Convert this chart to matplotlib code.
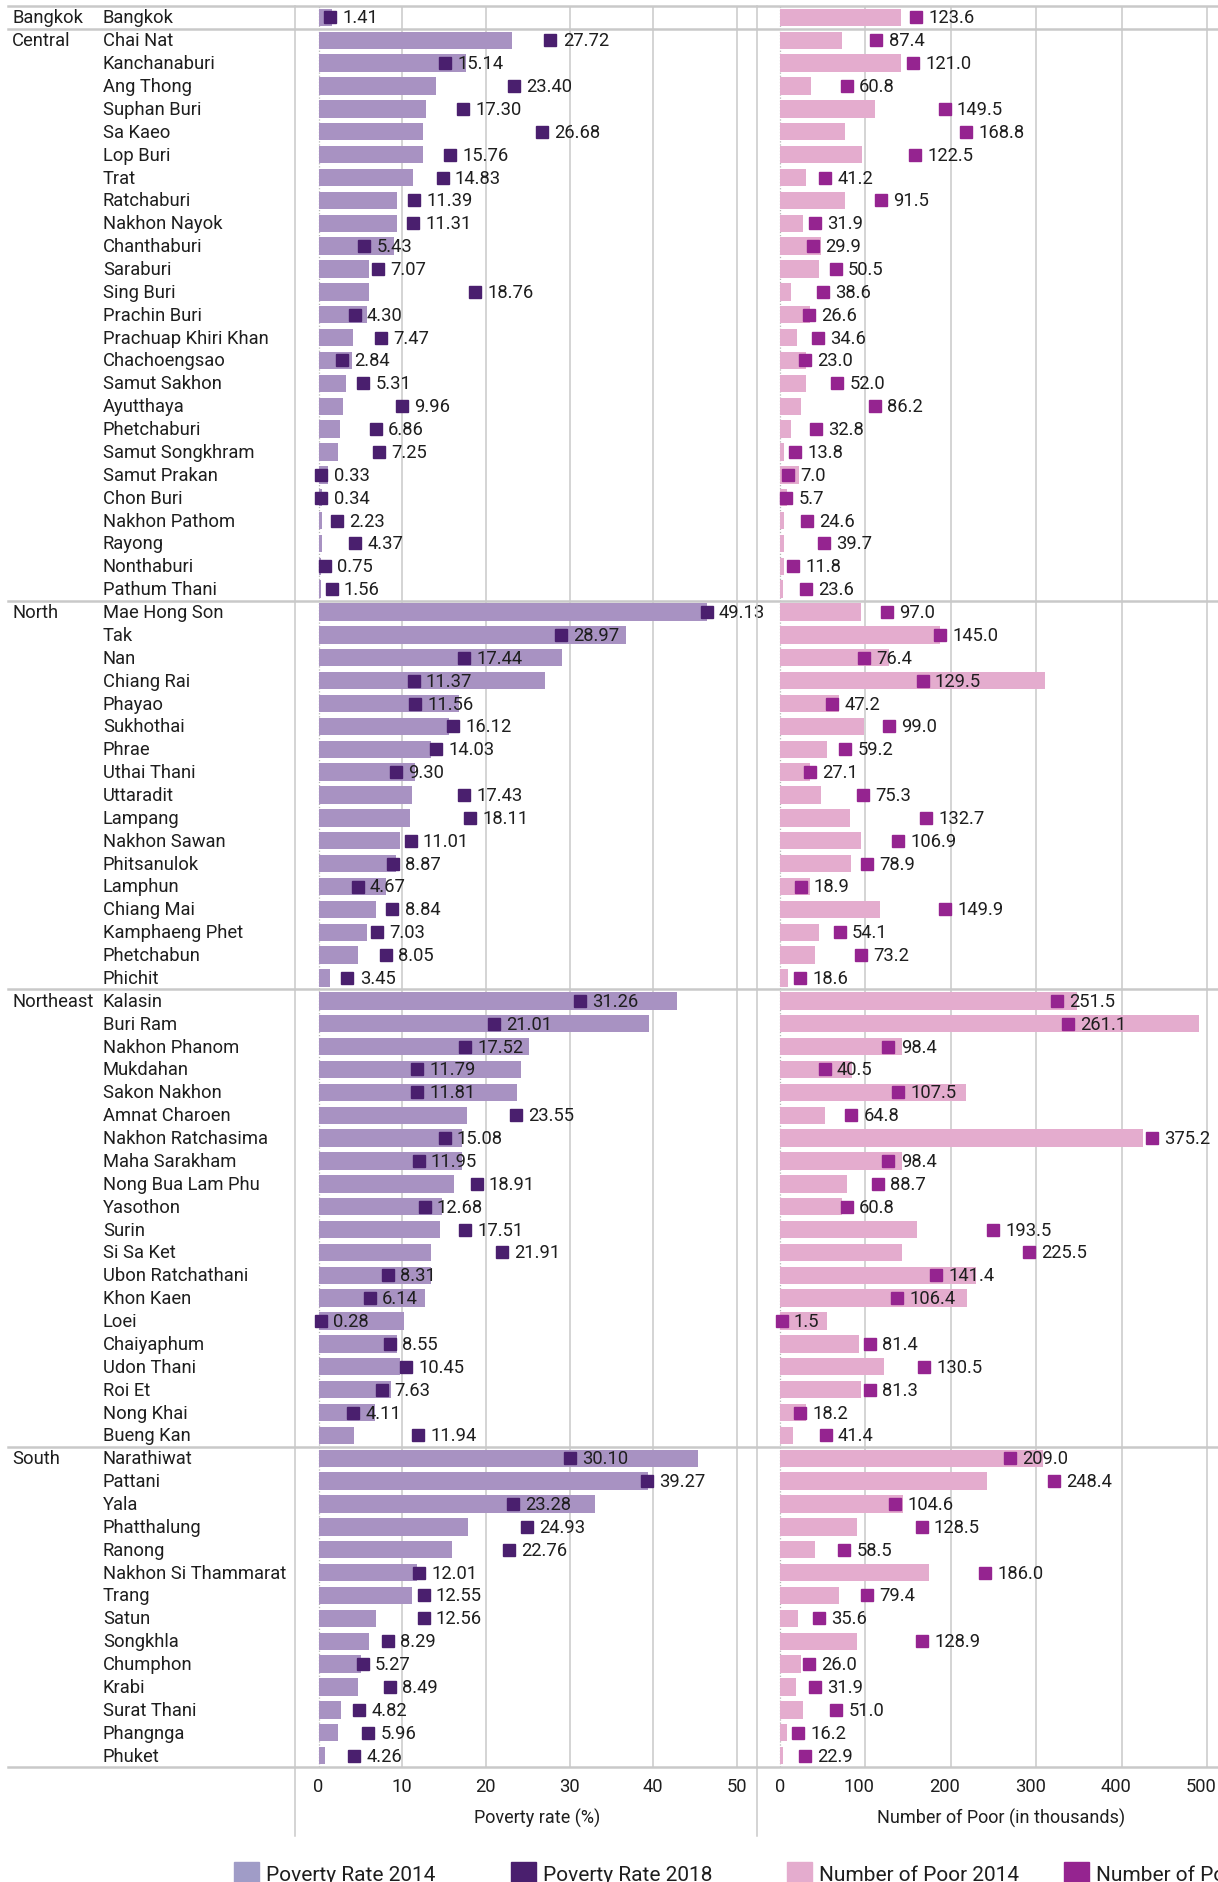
import numpy as np
import matplotlib
matplotlib.use("Agg")
import matplotlib.pyplot as plt
from matplotlib.lines import Line2D
from matplotlib.patches import Patch
from matplotlib import transforms

plt.rcParams['font.family'] = ['Roboto', 'DejaVu Sans']

# ---- data (top to bottom) ----
regions = ["Bangkok", "Central", "North", "Northeast", "South"]

bangkok = ["Bangkok"]
central = ["Chai Nat", "Kanchanaburi", "Ang Thong", "Suphan Buri", "Sa Kaeo",
           "Lop Buri", "Trat", "Ratchaburi", "Nakhon Nayok", "Chanthaburi",
           "Saraburi", "Sing Buri", "Prachin Buri", "Prachuap Khiri Khan",
           "Chachoengsao", "Samut Sakhon", "Ayutthaya", "Phetchaburi",
           "Samut Songkhram", "Samut Prakan", "Chon Buri", "Nakhon Pathom",
           "Rayong", "Nonthaburi", "Pathum Thani"]
north = ["Mae Hong Son", "Tak", "Nan", "Chiang Rai", "Phayao", "Sukhothai",
         "Phrae", "Uthai Thani", "Uttaradit", "Lampang", "Nakhon Sawan",
         "Phitsanulok", "Lamphun", "Chiang Mai", "Kamphaeng Phet",
         "Phetchabun", "Phichit"]
northeast = ["Kalasin", "Buri Ram", "Nakhon Phanom", "Mukdahan",
             "Sakon Nakhon", "Amnat Charoen", "Nakhon Ratchasima",
             "Maha Sarakham", "Nong Bua Lam Phu", "Yasothon", "Surin",
             "Si Sa Ket", "Ubon Ratchathani", "Khon Kaen", "Loei",
             "Chaiyaphum", "Udon Thani", "Roi Et", "Nong Khai", "Bueng Kan"]
south = ["Narathiwat", "Pattani", "Yala", "Phatthalung", "Ranong",
         "Nakhon Si Thammarat", "Trang", "Satun", "Songkhla", "Chumphon",
         "Krabi", "Surat Thani", "Phangnga", "Phuket"]

rate_2014 = [1.65,
             23.07, 17.67, 14.0, 12.8, 12.54, 12.45, 11.26, 9.43, 9.43, 8.97,
             6.04, 6.04, 5.82, 4.14, 4.02, 3.31, 2.95, 2.59, 2.35, 1.12,
             0.45, 0.40, 0.40, 0.28, 0.28,
             46.4, 36.8, 29.06, 27.05, 16.75, 15.65, 13.41, 11.49, 11.12,
             10.89, 9.70, 9.20, 8.10, 6.82, 5.81, 4.67, 1.42,
             42.9, 39.5, 25.1, 24.2, 23.7, 17.8, 17.2, 17.2, 16.2, 14.8,
             14.5, 13.5, 13.5, 12.7, 10.25, 9.4, 9.7, 8.7, 6.7, 4.2,
             45.4, 39.4, 33.1, 17.9, 16.0, 11.8, 11.2, 6.9, 6.06, 5.1,
             4.74, 2.71, 2.35, 0.80]
rate_2018 = [1.41,
             27.72, 15.14, 23.40, 17.30, 26.68, 15.76, 14.83, 11.39, 11.31,
             5.43, 7.07, 18.76, 4.30, 7.47, 2.84, 5.31, 9.96, 6.86, 7.25,
             0.33, 0.34, 2.23, 4.37, 0.75, 1.56,
             49.13, 28.97, 17.44, 11.37, 11.56, 16.12, 14.03, 9.30, 17.43,
             18.11, 11.01, 8.87, 4.67, 8.84, 7.03, 8.05, 3.45,
             31.26, 21.01, 17.52, 11.79, 11.81, 23.55, 15.08, 11.95, 18.91,
             12.68, 17.51, 21.91, 8.31, 6.14, 0.28, 8.55, 10.45, 7.63, 4.11,
             11.94,
             30.10, 39.27, 23.28, 24.93, 22.76, 12.01, 12.55, 12.56, 8.29,
             5.27, 8.49, 4.82, 5.96, 4.26]
poor_2014 = [142.0,
             72.7, 142.0, 36.2, 111.5, 76.4, 96.2, 30.6, 76.4, 27.0, 48.2,
             45.9, 13.1, 35.5, 20.0, 30.5, 30.5, 24.5, 12.9, 5.0, 22.0,
             8.0, 4.7, 4.7, 4.7, 3.5,
             94.4, 187.2, 127.1, 310.1, 68.5, 98.0, 55.5, 34.7, 48.5, 81.4,
             94.4, 83.7, 34.7, 116.5, 46.2, 40.7, 8.8,
             347.5, 490.7, 143.3, 84.6, 217.7, 52.3, 425.2, 142.3, 78.1,
             72.1, 159.9, 142.3, 229.2, 218.6, 55.5, 92.0, 121.6, 94.4, 31.0,
             15.7,
             307.9, 242.3, 144.0, 90.1, 41.0, 174.4, 69.1, 21.1, 90.1, 24.6,
             18.7, 26.9, 8.2, 3.5]
poor_2018 = [123.6,
             87.4, 121.0, 60.8, 149.5, 168.8, 122.5, 41.2, 91.5, 31.9, 29.9,
             50.5, 38.6, 26.6, 34.6, 23.0, 52.0, 86.2, 32.8, 13.8, 7.0, 5.7,
             24.6, 39.7, 11.8, 23.6,
             97.0, 145.0, 76.4, 129.5, 47.2, 99.0, 59.2, 27.1, 75.3, 132.7,
             106.9, 78.9, 18.9, 149.9, 54.1, 73.2, 18.6,
             251.5, 261.1, 98.4, 40.5, 107.5, 64.8, 375.2, 98.4, 88.7, 60.8,
             193.5, 225.5, 141.4, 106.4, 1.5, 81.4, 130.5, 81.3, 18.2, 41.4,
             209.0, 248.4, 104.6, 128.5, 58.5, 186.0, 79.4, 35.6, 128.9, 26.0,
             31.9, 51.0, 16.2, 22.9]

groups = [bangkok, central, north, northeast, south]
provinces = [p for g in groups for p in g]
group_start = np.cumsum([0] + [len(g) for g in groups])

# ---- style ----
C_RATE14 = "#a892c2"
C_RATE18 = "#4a1f6e"
C_POOR14 = "#e4acce"
C_POOR18 = "#952490"
GRID = "#c9c9c9"
TXT = "#1e1e1e"
FS = 13.2

W, H = 1218, 1883
fig = plt.figure(figsize=(W / 100, H / 100), dpi=100)

top_px, bot_px = 7, 1768
lab_right, mid = 294.7, 756.5
ax_b = 1 - bot_px / H
ax_h = (bot_px - top_px) / H
ax_lab = fig.add_axes([0, ax_b, lab_right / W, ax_h])
ax_rate = fig.add_axes([lab_right / W, ax_b, (mid - lab_right) / W, ax_h])
ax_poor = fig.add_axes([mid / W, ax_b, (W - mid) / W, ax_h])
ax_poor18 = ax_poor.twiny()

n = len(provinces)
y = np.arange(n)
for ax in (ax_lab, ax_rate, ax_poor, ax_poor18):
    ax.set_ylim(n - 0.5, -0.5)
    ax.set_yticks([])
    ax.patch.set_visible(False)
    for s in ax.spines.values():
        s.set_visible(False)

ax_lab.set_xlim(0, lab_right)
ax_lab.set_xticks([])
ax_rate.set_xlim(-2.85, 52.35)
ax_poor.set_xlim(-27.5, 512.7)
# the 2018 counts sit on their own (unsynchronised) scale in the original
ax_poor18.set_xlim(-27.5 / 1.29, 512.7 / 1.29)
ax_poor18.set_xticks([])

# grid
for v in [10, 20, 30, 40, 50]:
    ax_rate.axvline(v, color=GRID, lw=1.1, zorder=0)
for v in [100, 200, 300, 400, 500]:
    ax_poor.axvline(v, color=GRID, lw=1.1, zorder=0)
for ax in (ax_rate, ax_poor):
    ax.axvline(0, color="#b5b5b5", lw=0.9, ls=(0, (1, 1.5)), zorder=0)

# bars + markers
ax_rate.barh(y, rate_2014, height=0.76, color=C_RATE14, zorder=2)
ax_poor.barh(y, poor_2014, height=0.76, color=C_POOR14, zorder=2)


def clamp(ax, vals, room):
    lo, hi = ax.get_xlim()
    return np.minimum(vals, hi - room * (hi - lo))


def markers(ax, vals, color, fmt, room):
    xs = clamp(ax, np.asarray(vals), room)
    ax.plot(xs, y, ls="none", marker="s", ms=8.6, color=color, zorder=3)
    for xv, yv, v in zip(xs, y, vals):
        ax.annotate(fmt.format(v), (xv, yv), xytext=(8.8, 0),
                    textcoords="offset points", va="center", ha="left",
                    fontsize=FS, color=TXT, zorder=4)


markers(ax_rate, rate_2018, C_RATE18, "{:.2f}", 0.108)
markers(ax_poor18, poor_2018, C_POOR18, "{:.1f}", 0.143)

# labels
for name, yi in zip(provinces, y):
    ax_lab.text(103, yi, name, va="center", ha="left", fontsize=FS, color=TXT)
for reg, s in zip(regions, group_start[:-1]):
    ax_lab.text(12, s, reg, va="center", ha="left", fontsize=FS, color=TXT)

# group separators across the whole width
tr = transforms.blended_transform_factory(fig.transFigure, ax_rate.transData)
for s in group_start:
    fig.add_artist(Line2D([8 / W, 1], [s - 0.5, s - 0.5], transform=tr,
                          color=GRID, lw=1.8, zorder=5))
# panel separators reaching down through the axis titles
for xp in (lab_right, mid):
    fig.add_artist(Line2D([xp / W, xp / W], [1 - top_px / H, 1 - 1837 / H],
                          transform=fig.transFigure, color=GRID, lw=1.1))

# x axes
ax_rate.set_xticks([0, 10, 20, 30, 40, 50])
ax_poor.set_xticks([0, 100, 200, 300, 400, 500])
for ax in (ax_rate, ax_poor):
    ax.tick_params(axis="x", length=0, pad=7.5, labelsize=FS, labelcolor=TXT)
shift = transforms.ScaledTranslation(-6 / 100, 0, fig.dpi_scale_trans)
for lbl in ax_poor.get_xticklabels()[1:]:
    lbl.set_transform(lbl.get_transform() + shift)
ax_rate.set_xlabel("Poverty rate (%)", fontsize=13, color=TXT, labelpad=9)
ax_poor.set_xlabel("Number of Poor (in thousands)", fontsize=13, color=TXT,
                   labelpad=9)
ax_rate.xaxis.label.set_x(0.525)
ax_poor.xaxis.label.set_x(0.529)

# legend (fixed-width items, runs off the right edge like the original)
items = [("Poverty Rate 2014", "#a09cc7"), ("Poverty Rate 2018", C_RATE18),
         ("Number of Poor 2014", C_POOR14), ("Number of Poor 2018", C_POOR18)]
for i, (lab, col) in enumerate(items):
    fig.legend([Patch(color=col)], [lab], loc="center left",
               bbox_to_anchor=((234 + 276.5 * i) / W, 9 / H), frameon=False,
               fontsize=15, handlelength=1.2, handleheight=1.2,
               handletextpad=0.35, borderpad=0, borderaxespad=0,
               labelcolor=TXT)

fig.savefig("out.png", dpi=100)
